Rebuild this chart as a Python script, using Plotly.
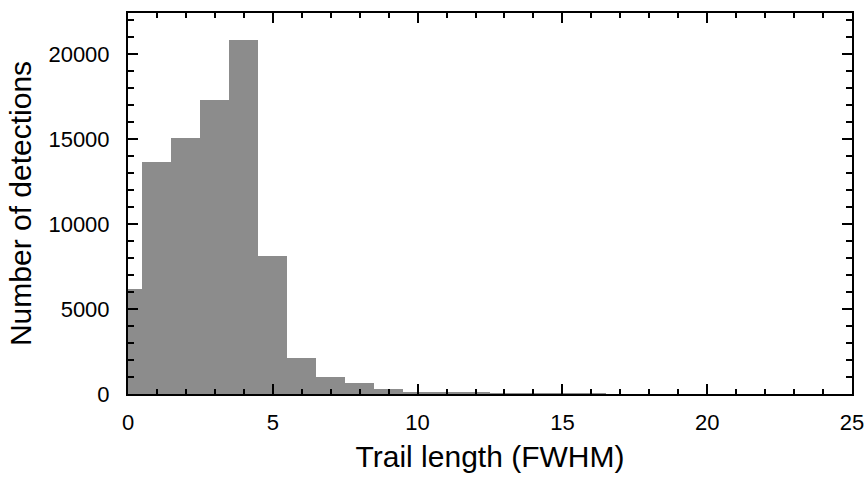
import plotly.graph_objects as go

# Bin centres (FWHM) and counts
bin_centers = [0, 1, 2, 3, 4, 5, 6, 7, 8, 9, 10, 11, 12, 13, 14, 15, 16, 17]
counts = [6200, 13650, 15050, 17300, 20800, 8100, 2100, 1000, 620, 290, 130, 90, 70, 55, 45, 40, 30, 0]

x_ticks = [0, 5, 10, 15, 20, 25]
y_ticks = [0, 5000, 10000, 15000, 20000]

FONT = "Liberation Sans, Arial, sans-serif"

fig = go.Figure(go.Bar(
    x=bin_centers, y=counts, width=1,
    marker=dict(color="#8c8c8c", line=dict(width=0)),
))

axis_common = dict(
    showline=True, linecolor="black", linewidth=2, mirror="ticks",
    ticks="inside", tickcolor="black", tickwidth=2,
    showgrid=False, zeroline=False, automargin=False,
    tickfont=dict(family=FONT, size=22, color="black"),
)

fig.update_xaxes(
    range=[0, 25], tickvals=x_ticks, ticktext=[str(v) for v in x_ticks], ticklen=10,
    minor=dict(dtick=1, ticks="inside", ticklen=5, tickwidth=2, tickcolor="black", showgrid=False),
    title=dict(text="Trail length (FWHM)", font=dict(family=FONT, size=30, color="black"), standoff=12),
    ticklabelstandoff=8,
    **axis_common,
)
fig.update_yaxes(
    range=[0, 22400], tickvals=y_ticks, ticktext=[str(v) for v in y_ticks], ticklen=10,
    minor=dict(dtick=1000, ticks="inside", ticklen=6, tickwidth=2, tickcolor="black", showgrid=False),
    title=dict(text="Number of detections", font=dict(family=FONT, size=30, color="black"), standoff=8),
    ticklabelstandoff=12,
    **axis_common,
)

fig.update_layout(
    width=866, height=480,
    margin=dict(l=128, r=14, t=13, b=86, autoexpand=False),
    plot_bgcolor="white", paper_bgcolor="white",
    bargap=0, showlegend=False,
)

fig.write_html("out.html", config={"displayModeBar": False},
               post_script="document.body.style.margin='0';")
